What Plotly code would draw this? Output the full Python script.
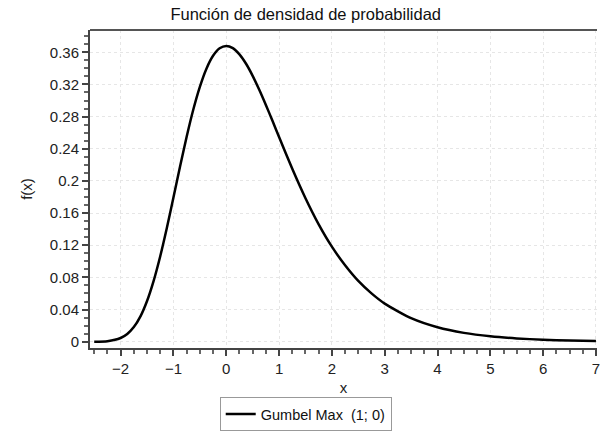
import plotly.graph_objects as go

x_vals = [-2.5, -2.25, -2.0, -1.875, -1.75, -1.625, -1.5, -1.375, -1.25, -1.125, -1.0,
          -0.875, -0.75, -0.625, -0.5, -0.375, -0.25, -0.125, 0.0, 0.125, 0.25, 0.375,
          0.5, 0.625, 0.75, 0.875, 1.0, 1.25, 1.5, 1.75, 2.0, 2.25, 2.5, 2.75, 3.0, 3.5,
          4.0, 4.5, 5.0, 5.5, 6.0, 6.5, 7.0]
f_vals = [0.0001, 0.0007, 0.0046, 0.0096, 0.0182, 0.0316, 0.0507, 0.0758, 0.1064, 0.1415,
          0.1794, 0.2179, 0.2549, 0.2885, 0.3170, 0.3396, 0.3556, 0.3649, 0.3679, 0.3651,
          0.3574, 0.3457, 0.3307, 0.3134, 0.2945, 0.2748, 0.2546, 0.2151, 0.1785, 0.1460,
          0.1182, 0.0951, 0.0756, 0.0601, 0.0474, 0.0293, 0.0180, 0.0110, 0.0067,
          0.0041, 0.0025, 0.0015, 0.0009]
series_name = "Gumbel Max  (1; 0)"
title_text = "Función de densidad de probabilidad"
y_ticks = [0, 0.04, 0.08, 0.12, 0.16, 0.2, 0.24, 0.28, 0.32, 0.36]
y_tick_labels = ["0", "0.04", "0.08", "0.12", "0.16", "0.2", "0.24", "0.28", "0.32", "0.36"]
x_ticks = [-2, -1, 0, 1, 2, 3, 4, 5, 6, 7]

fig = go.Figure()
fig.add_trace(go.Scatter(x=x_vals, y=f_vals, mode="lines", name=series_name,
                         line=dict(color="black", width=2.5, shape="spline", smoothing=0.6)))

fig.update_layout(
    width=603, height=431,
    margin=dict(l=90, r=3, t=30, b=83),
    paper_bgcolor="white", plot_bgcolor="white",
    font=dict(family="Liberation Sans, Arial, sans-serif", size=15, color="#222"),
    title=dict(text=title_text, xref="container", x=0.507, xanchor="center",
               yref="container", y=0.967, yanchor="middle",
               font=dict(size=16.5, color="#111")),
    showlegend=True,
    legend=dict(orientation="h", xref="container", yref="container", x=0.507, xanchor="center",
                y=0.0, yanchor="bottom", bordercolor="#999", borderwidth=1, itemwidth=30,
                font=dict(size=14.5, color="#111"), bgcolor="white"),
    xaxis=dict(range=[-2.58, 7.02], tickvals=x_ticks, showline=True, linecolor="#444", linewidth=2,
               ticks="outside", ticklen=6, tickcolor="#444", tickwidth=1.5,
               tickfont=dict(size=15), ticklabeloverflow="allow",
               minor=dict(dtick=0.25, ticks="outside", ticklen=4, tickcolor="#666", showgrid=False),
               showgrid=True, gridcolor="#e6e6e6", griddash="dot", gridwidth=1,
               zeroline=False, title=dict(text="x", standoff=6, font=dict(size=15))),
    yaxis=dict(range=[-0.0078, 0.3877], tickvals=y_ticks, ticktext=y_tick_labels,
               showline=True, linecolor="#444", linewidth=2,
               ticks="outside", ticklen=6, tickcolor="#444", tickwidth=1.5,
               tickfont=dict(size=15),
               minor=dict(dtick=0.01, ticks="outside", ticklen=4, tickcolor="#666", showgrid=False),
               showgrid=True, gridcolor="#e6e6e6", griddash="dot", gridwidth=1,
               zeroline=False, title=dict(text="f(x)", standoff=14, font=dict(size=15))),
)
fig.add_shape(type="line", xref="paper", yref="paper", x0=0, x1=1, y0=1, y1=1,
              line=dict(color="#555", width=2))

fig.write_html("out.html")
